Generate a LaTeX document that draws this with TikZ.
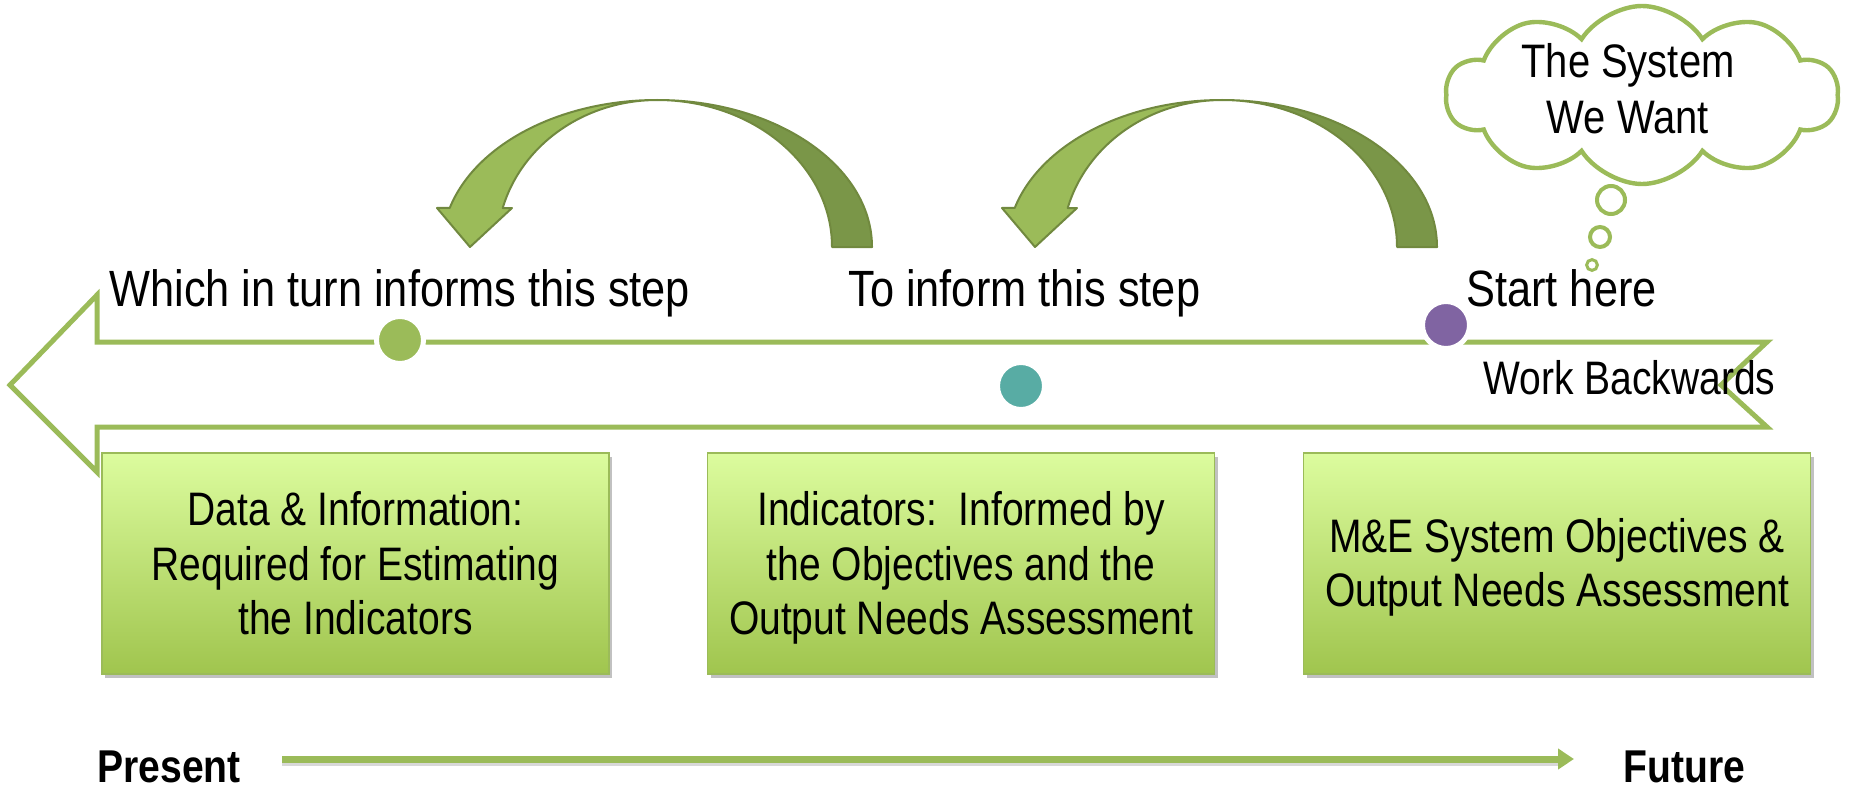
\documentclass[tikz,border=0pt]{standalone}
\usepackage{fontspec}
\setmainfont{Liberation Sans}
\usepackage{graphicx}
\usetikzlibrary{shapes.symbols,shadows,arrows.meta}
\definecolor{accgreen}{RGB}{155,187,89}
\definecolor{arrdark}{RGB}{122,150,72}
\definecolor{arrline}{RGB}{113,137,63}
\definecolor{boxtop}{RGB}{220,252,158}
\definecolor{boxbot}{RGB}{160,197,78}
\definecolor{dotpurple}{RGB}{128,100,162}
\definecolor{dotteal}{RGB}{88,172,164}
\newcommand\hs[1]{\scalebox{0.85}[1]{#1}}
\newcommand\hsb[1]{\scalebox{0.83}[1]{#1}}
\begin{document}
\begin{tikzpicture}[x=0.5pt,y=0.5pt,
  lbl/.style={inner sep=0, anchor=base west, font=\fontsize{25.5}{29}\selectfont},
  lblsmall/.style={inner sep=0, anchor=base west, font=\fontsize{23.5}{27}\selectfont},
  boxtext/.style={inner sep=0, align=center, font=\fontsize{23.5}{27.25}\selectfont},
  stepbox/.style={draw=accgreen, line width=0.75pt, top color=boxtop, bottom color=boxbot,
    minimum width=253.5pt, minimum height=110.5pt, inner sep=0,
    drop shadow={shadow xshift=1.5pt, shadow yshift=-2pt, opacity=0.35, fill=black!70}},
  dot/.style={circle, inner sep=0, minimum size=23.5pt, draw=white, line width=2.5pt},
  backpart/.style={fill=arrdark, draw=arrline, line width=1pt, line join=round},
  frontpart/.style={fill=accgreen, draw=arrline, line width=1pt, line join=round},
  timeline/.style={draw=accgreen, line width=3.5pt, -{Triangle[length=8pt,width=10pt]}},
  bubble/.style={draw=accgreen, line width=2pt, fill=white},
  tm/.style={inner sep=0, anchor=base west, font=\bfseries\fontsize{23}{27}\selectfont}
]
\useasboundingbox (0,0) rectangle (1858,-792);

% big backwards arrow
\draw[accgreen, line width=2.5pt, fill=white, line join=miter]
  (10,-385) -- (97,-295) -- (97,-342) -- (1767,-342) -- (1721,-385)
  -- (1767,-427) -- (97,-427) -- (97,-472) -- cycle;

% dots
\node[dot, fill=accgreen] (d1) at (400,-340) {};
\node[dot, fill=dotteal] (d2) at (1021,-386) {};
\node[dot, fill=dotpurple] (d3) at (1446,-325) {};

% curved arrows
\foreach \sx in {657, 1222}{
\begin{scope}[shift={(\sx,-247)}]
  \path[backpart] (215,0) arc[start angle=0, end angle=90, x radius=107.5pt, y radius=73.5pt]
    arc[start angle=90, end angle=0, x radius=87.5pt, y radius=73.5pt] -- cycle;
  \path[frontpart] (0,147) arc[start angle=90, end angle=164.6, x radius=107.5pt, y radius=73.5pt]
    -- (-220,39) -- (-187,0) -- (-145,39) -- (-154.3,39)
    arc[start angle=164.6, end angle=90, x radius=80pt, y radius=73.5pt] -- cycle;
\end{scope}
}

% labels
\node[lbl] (which) at (109,-306) {\hs{Which in turn informs this step}};
\node[lbl] (toinform) at (848,-306) {\hs{To inform this step}};
\node[lbl] (start) at (1466,-306) {\hs{Start here}};
\node[lblsmall] (work) at (1483,-394) {\scalebox{0.83}[1]{Work Backwards}};

% boxes
\node[stepbox] (b1) at (355.5,-563.5) {};
\node[stepbox] (b2) at (961,-563.5) {};
\node[stepbox] (b3) at (1557,-563.5) {};
\node[boxtext] (t1) at ([yshift=-3pt]b1.center) {\hsb{\begin{tabular}{@{}c@{}}Data \& Information:\\Required for Estimating\\the Indicators\end{tabular}}};
\node[boxtext] (t2) at ([yshift=-3pt]b2.center) {\hsb{\begin{tabular}{@{}c@{}}Indicators:\ \ Informed by\\the Objectives and the\\Output Needs Assessment\end{tabular}}};
\node[boxtext] (t3) at ([yshift=-2.5pt]b3.center) {\hsb{\begin{tabular}{@{}c@{}}M\&E System Objectives \&\\Output Needs Assessment\end{tabular}}};

% thought cloud
\node[cloud, draw=accgreen, line width=2.2pt, fill=white, cloud puffs=10, cloud puff arc=115,
  aspect=2.45, minimum width=196pt, minimum height=89pt, inner sep=0] (cloud) at (1642,-95) {};
\node[boxtext, font=\fontsize{23.5}{28}\selectfont] (sys) at (1628,-94)
  {\hs{\begin{tabular}{@{}c@{}}The System\\We Want\end{tabular}}};
\draw[bubble] (1611,-200) circle (7pt);
\draw[bubble] (1600,-237) circle (5pt);
\draw[bubble, line width=1.5pt] (1592,-265) circle (2.7pt);

% timeline
\node[tm] (present) at (97,-782) {\hs{Present}};
\node[tm] (future) at (1623,-782) {\hs{Future}};
\coordinate (tl0) at (282,-759);
\coordinate (tl1) at (1574,-759);
\draw[black!30, line width=3pt, opacity=0.5] ([yshift=-2pt]tl0) -- ([yshift=-2pt,xshift=-8pt]tl1);
\draw[timeline] (tl0) -- (tl1);
\end{tikzpicture}
\end{document}
